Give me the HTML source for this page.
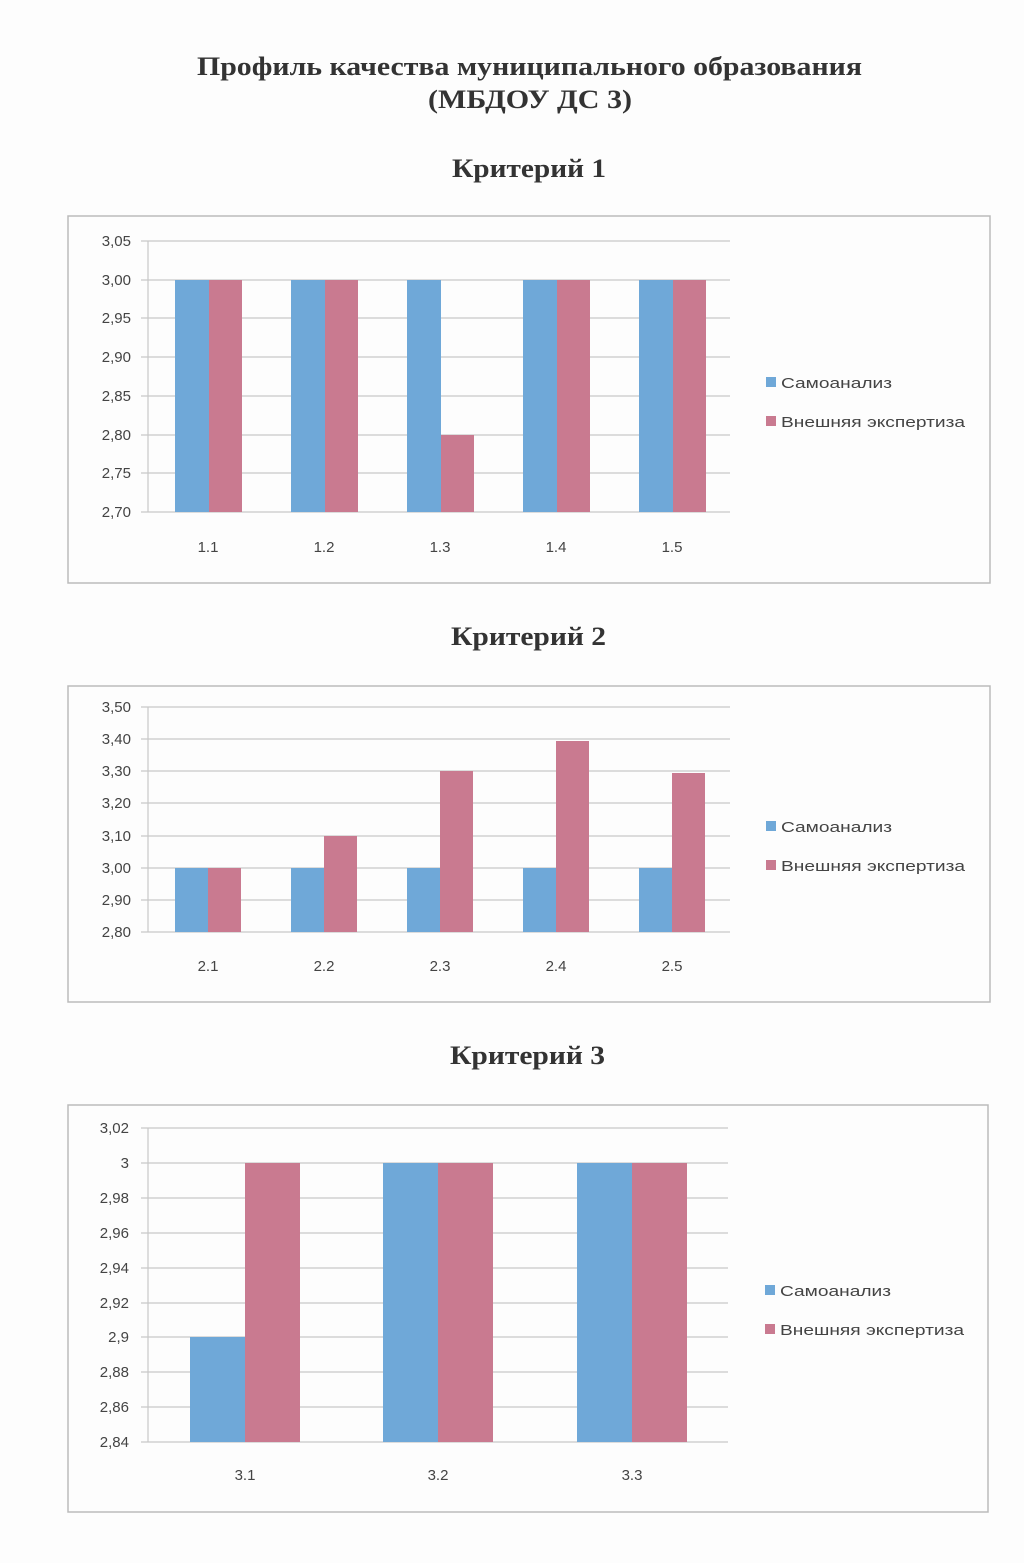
<!DOCTYPE html>
<html><head><meta charset="utf-8"><style>
body{margin:0;background:#fff;}
svg{display:block}
</style></head><body>
<svg width="1024" height="1563" xmlns="http://www.w3.org/2000/svg" font-family="Liberation Sans, sans-serif">
<rect width="1024" height="1563" fill="#fdfdfd"/>
<g font-family="Liberation Serif, serif" font-weight="bold" fill="#333">
<text x="197" y="75" font-size="26" textLength="665" lengthAdjust="spacingAndGlyphs">Профиль качества муниципального образования</text>
<text x="428" y="108" font-size="26" textLength="204" lengthAdjust="spacingAndGlyphs">(МБДОУ ДС 3)</text>
<text x="452" y="177" font-size="26" textLength="154" lengthAdjust="spacingAndGlyphs">Критерий 1</text>
<text x="451" y="645" font-size="26" textLength="155" lengthAdjust="spacingAndGlyphs">Критерий 2</text>
<text x="450" y="1064" font-size="26" textLength="155" lengthAdjust="spacingAndGlyphs">Критерий 3</text>
</g>
<g fill="none" stroke="#bbb" stroke-width="1.5">
<rect x="68" y="216" width="922" height="367"/>
<rect x="68" y="686" width="922" height="316"/>
<rect x="68" y="1105" width="920" height="407"/>
</g>
<g stroke="#c8c8c8" stroke-width="1.2">
<line x1="141" y1="241" x2="730" y2="241"/><line x1="141" y1="280" x2="730" y2="280"/><line x1="141" y1="318" x2="730" y2="318"/><line x1="141" y1="357" x2="730" y2="357"/><line x1="141" y1="396" x2="730" y2="396"/><line x1="141" y1="435" x2="730" y2="435"/><line x1="141" y1="473" x2="730" y2="473"/><line x1="141" y1="512" x2="730" y2="512"/>
<line x1="148" y1="241" x2="148" y2="512"/>
</g>
<g font-size="15" fill="#444" text-anchor="end">
<text x="131" y="246">3,05</text><text x="131" y="285">3,00</text><text x="131" y="323">2,95</text><text x="131" y="362">2,90</text><text x="131" y="401">2,85</text><text x="131" y="440">2,80</text><text x="131" y="478">2,75</text><text x="131" y="517">2,70</text>
</g>
<g fill="#6fa8d8"><rect x="175" y="280" width="34" height="232"/><rect x="291" y="280" width="34" height="232"/><rect x="407" y="280" width="34" height="232"/><rect x="523" y="280" width="34" height="232"/><rect x="639" y="280" width="34" height="232"/></g>
<g fill="#c97a90"><rect x="209" y="280" width="33" height="232"/><rect x="325" y="280" width="33" height="232"/><rect x="441" y="435" width="33" height="77"/><rect x="557" y="280" width="33" height="232"/><rect x="673" y="280" width="33" height="232"/></g>
<g font-size="15" fill="#444" text-anchor="middle"><text x="208" y="552">1.1</text><text x="324" y="552">1.2</text><text x="440" y="552">1.3</text><text x="556" y="552">1.4</text><text x="672" y="552">1.5</text></g>
<g font-size="15" fill="#444"><rect x="766" y="377" width="10" height="10" fill="#6fa8d8"/><text x="781" y="388" textLength="111" lengthAdjust="spacingAndGlyphs">Самоанализ</text><rect x="766" y="416" width="10" height="10" fill="#c97a90"/><text x="781" y="427" textLength="184" lengthAdjust="spacingAndGlyphs">Внешняя экспертиза</text></g>
<g stroke="#c8c8c8" stroke-width="1.2">
<line x1="141" y1="707" x2="730" y2="707"/><line x1="141" y1="739" x2="730" y2="739"/><line x1="141" y1="771" x2="730" y2="771"/><line x1="141" y1="803" x2="730" y2="803"/><line x1="141" y1="836" x2="730" y2="836"/><line x1="141" y1="868" x2="730" y2="868"/><line x1="141" y1="900" x2="730" y2="900"/><line x1="141" y1="932" x2="730" y2="932"/>
<line x1="148" y1="707" x2="148" y2="932"/>
</g>
<g font-size="15" fill="#444" text-anchor="end">
<text x="131" y="712">3,50</text><text x="131" y="744">3,40</text><text x="131" y="776">3,30</text><text x="131" y="808">3,20</text><text x="131" y="841">3,10</text><text x="131" y="873">3,00</text><text x="131" y="905">2,90</text><text x="131" y="937">2,80</text>
</g>
<g fill="#6fa8d8"><rect x="175" y="868" width="33" height="64"/><rect x="291" y="868" width="33" height="64"/><rect x="407" y="868" width="33" height="64"/><rect x="523" y="868" width="33" height="64"/><rect x="639" y="868" width="33" height="64"/></g>
<g fill="#c97a90"><rect x="208" y="868" width="33" height="64"/><rect x="324" y="836" width="33" height="96"/><rect x="440" y="771" width="33" height="161"/><rect x="556" y="741" width="33" height="191"/><rect x="672" y="773" width="33" height="159"/></g>
<g font-size="15" fill="#444" text-anchor="middle"><text x="208" y="971">2.1</text><text x="324" y="971">2.2</text><text x="440" y="971">2.3</text><text x="556" y="971">2.4</text><text x="672" y="971">2.5</text></g>
<g font-size="15" fill="#444"><rect x="766" y="821" width="10" height="10" fill="#6fa8d8"/><text x="781" y="832" textLength="111" lengthAdjust="spacingAndGlyphs">Самоанализ</text><rect x="766" y="860" width="10" height="10" fill="#c97a90"/><text x="781" y="871" textLength="184" lengthAdjust="spacingAndGlyphs">Внешняя экспертиза</text></g>
<g stroke="#c8c8c8" stroke-width="1.2">
<line x1="141" y1="1128" x2="728" y2="1128"/><line x1="141" y1="1163" x2="728" y2="1163"/><line x1="141" y1="1198" x2="728" y2="1198"/><line x1="141" y1="1233" x2="728" y2="1233"/><line x1="141" y1="1268" x2="728" y2="1268"/><line x1="141" y1="1303" x2="728" y2="1303"/><line x1="141" y1="1337" x2="728" y2="1337"/><line x1="141" y1="1372" x2="728" y2="1372"/><line x1="141" y1="1407" x2="728" y2="1407"/><line x1="141" y1="1442" x2="728" y2="1442"/>
<line x1="148" y1="1128" x2="148" y2="1442"/>
</g>
<g font-size="15" fill="#444" text-anchor="end">
<text x="129" y="1133">3,02</text><text x="129" y="1168">3</text><text x="129" y="1203">2,98</text><text x="129" y="1238">2,96</text><text x="129" y="1273">2,94</text><text x="129" y="1308">2,92</text><text x="129" y="1342">2,9</text><text x="129" y="1377">2,88</text><text x="129" y="1412">2,86</text><text x="129" y="1447">2,84</text>
</g>
<g fill="#6fa8d8"><rect x="190" y="1337" width="55" height="105"/><rect x="383" y="1163" width="55" height="279"/><rect x="577" y="1163" width="55" height="279"/></g>
<g fill="#c97a90"><rect x="245" y="1163" width="55" height="279"/><rect x="438" y="1163" width="55" height="279"/><rect x="632" y="1163" width="55" height="279"/></g>
<g font-size="15" fill="#444" text-anchor="middle"><text x="245" y="1480">3.1</text><text x="438" y="1480">3.2</text><text x="632" y="1480">3.3</text></g>
<g font-size="15" fill="#444"><rect x="765" y="1285" width="10" height="10" fill="#6fa8d8"/><text x="780" y="1296" textLength="111" lengthAdjust="spacingAndGlyphs">Самоанализ</text><rect x="765" y="1324" width="10" height="10" fill="#c97a90"/><text x="780" y="1335" textLength="184" lengthAdjust="spacingAndGlyphs">Внешняя экспертиза</text></g>
</svg>
</body></html>
